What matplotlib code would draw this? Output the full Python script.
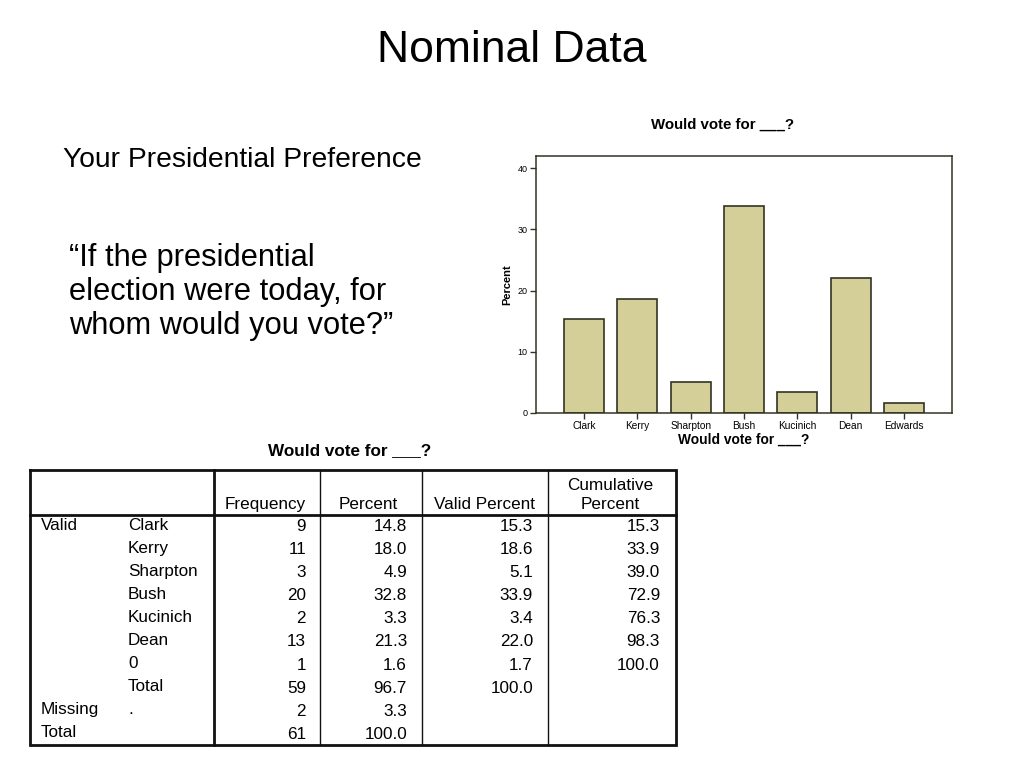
### tool: recreate "Nominal Data" slide (bar chart + SPSS frequency table)

import matplotlib.pyplot as plt

plt.rcParams['font.family'] = ['Liberation Sans', 'DejaVu Sans']

# chart data (valid percent per candidate)
candidates = ['Clark', 'Kerry', 'Sharpton', 'Bush', 'Kucinich', 'Dean', 'Edwards']
valid_pct_chart = [15.3, 18.6, 5.1, 33.9, 3.4, 22.0, 1.7]
y_ticks = [0, 10, 20, 30, 40]

# frequency table
row_groups = ['Valid', '', '', '', '', '', '', '', 'Missing', 'Total']
row_labels = ['Clark', 'Kerry', 'Sharpton', 'Bush', 'Kucinich', 'Dean', '0', 'Total', '.', '']
frequency = ['9', '11', '3', '20', '2', '13', '1', '59', '2', '61']
percent = ['14.8', '18.0', '4.9', '32.8', '3.3', '21.3', '1.6', '96.7', '3.3', '100.0']
valid_percent = ['15.3', '18.6', '5.1', '33.9', '3.4', '22.0', '1.7', '100.0', '', '']
cumulative = ['15.3', '33.9', '39.0', '72.9', '76.3', '98.3', '100.0', '', '', '']
col_headers = ['Frequency', 'Percent', 'Valid Percent', 'Cumulative\nPercent']

fig = plt.figure(figsize=(10.24, 7.68), dpi=100)
fig.patch.set_facecolor('white')

# full-figure overlay in pixel coords for slide text and table
bg = fig.add_axes([0, 0, 1, 1])
bg.set_xlim(0, 1024)
bg.set_ylim(768, 0)
bg.axis('off')

bg.text(512, 50, 'Nominal Data', fontsize=32, ha='center', va='center')
bg.text(63, 160, 'Your Presidential Preference', fontsize=20.3, ha='left', va='center')
bg.text(69, 292, '\u201cIf the presidential\nelection were today, for\nwhom would you vote?\u201d',
        fontsize=22.2, ha='left', va='center', linespacing=1.17)

# ---- table ----
tl, tr, tt, tb = 30, 676, 470, 745
hdr_line = 515
vlines = [214, 320, 422, 548]
row0 = 525
row_h = 23.1
col_right = [306, 407, 533, 660]
col_center = [265, 368, 484, 610]
dark = '#111111'
fs = 12.3

bg.text(350, 451, 'Would vote for ___?', fontsize=12.3, fontweight='bold', ha='center', va='center')
bg.plot([tl, tr, tr, tl, tl], [tt, tt, tb, tb, tt], color=dark, lw=2, solid_joinstyle='miter')
bg.plot([tl, tr], [hdr_line, hdr_line], color=dark, lw=2)
for i, x in enumerate(vlines):
    bg.plot([x, x], [tt, tb], color=dark, lw=2 if i == 0 else 1)

for j, h in enumerate(col_headers):
    bg.text(col_center[j], 509, h, fontsize=fs, ha='center', va='baseline', linespacing=1.3)

cols = [frequency, percent, valid_percent, cumulative]
for i in range(len(row_labels)):
    y = row0 + i * row_h
    bg.text(41, y, row_groups[i], fontsize=fs, ha='left', va='center')
    bg.text(128, y, row_labels[i], fontsize=fs, ha='left', va='center')
    for j, col in enumerate(cols):
        bg.text(col_right[j], y + 1.5, col[i], fontsize=fs, ha='right', va='center')

# ---- bar chart ----
ax = fig.add_axes([536 / 1024, 1 - 413 / 768, 416 / 1024, 257 / 768])
edge = '#333322'
ax.bar(range(len(candidates)), valid_pct_chart, width=0.75,
       color='#d4cf98', edgecolor=edge, linewidth=1.2)
ax.set_xlim(-0.9, len(candidates) - 0.1)
ax.set_ylim(0, 42)
ax.set_yticks(y_ticks)
ax.set_xticks(range(len(candidates)))
ax.set_xticklabels(candidates)
ax.tick_params(axis='x', labelsize=7.3, length=4, width=1, color=edge, pad=2)
ax.tick_params(axis='y', labelsize=6.5, length=4, width=1, color=edge, pad=2)
for s in ax.spines.values():
    s.set_color(edge)
    s.set_linewidth(1.1)
bg.text(723, 125, 'Would vote for ___?', fontsize=10.8, fontweight='bold', ha='center', va='center')
ax.set_xlabel('Would vote for ___?', fontsize=9.9, fontweight='bold', labelpad=1)
ax.set_ylabel('Percent', fontsize=8, fontweight='bold', labelpad=4)

fig.savefig('out.png', dpi=100)
